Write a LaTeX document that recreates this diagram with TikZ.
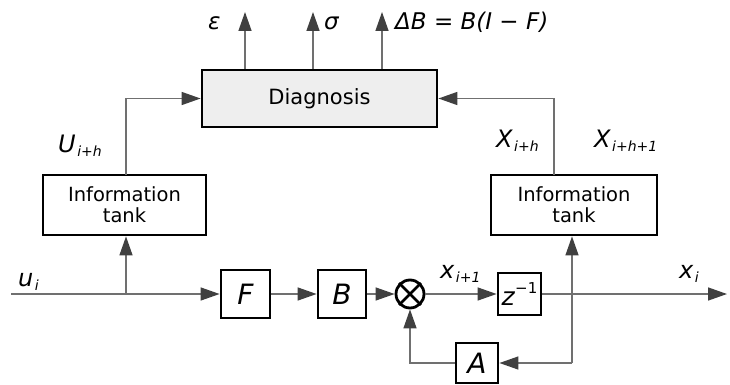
\documentclass[tikz,border=0pt]{standalone}
\usepackage{fontspec}
\setmainfont{DejaVu Sans}
\usetikzlibrary{arrows.meta}
\newcommand\sbs[1]{\kern1.5pt\raisebox{-0.35ex}{\fontsize{14}{14}\selectfont\itshape #1}}
\newcommand\sps[1]{\raisebox{0.9ex}{\fontsize{15}{15}\selectfont #1}}
\definecolor{linegray}{HTML}{707070}
\definecolor{tipgray}{HTML}{404040}
\definecolor{boxfill}{HTML}{EEEEEE}
\tikzset{
  blk/.style={draw=black, line width=2.8pt, fill=white, inner sep=0pt, align=center},
  txt/.style={font=\fontsize{19.5}{21}\selectfont},
  sym/.style={font=\fontsize{28}{28}\selectfont\itshape},
  lbl/.style={font=\fontsize{24}{24}\selectfont\itshape, inner sep=0pt, anchor=base west},
  wire/.style={draw=linegray, line width=1.4pt},
  arr/.style={wire, -{Triangle[length=19pt,width=13pt,fill=tipgray,color=tipgray]}},
}
\begin{document}
\begin{tikzpicture}[x=1pt,y=-1pt]
\useasboundingbox (0,0) rectangle (730,385);
% blocks
\node[blk, fill=boxfill, font=\fontsize{21}{21}\selectfont, minimum width=235pt, minimum height=57pt] (diag) at (319.5,98.5) {Diagnosis};
\node[blk, txt, minimum width=163pt, minimum height=60pt] (tankL) at (124.5,205) {Information\\tank};
\node[blk, txt, minimum width=166pt, minimum height=60pt] (tankR) at (574,205) {Information\\tank};
\node[blk, sym, minimum width=49pt, minimum height=48pt] (F) at (245.5,294) {F};
\node[blk, sym, minimum width=48pt, minimum height=48pt] (B) at (342,294) {B};
\node[blk, circle, minimum size=28pt] (mult) at (410,294) {};
\draw[line width=2.8pt] (mult.north west) -- (mult.south east) (mult.north east) -- (mult.south west);
\node[blk, minimum width=43pt, minimum height=42pt, font=\fontsize{25}{25}\selectfont] (Z) at (519.5,294) {\textit{z}\sps{−1}};
\node[blk, sym, minimum width=42pt, minimum height=40pt] (A) at (477,363) {A};
% coordinates
\coordinate (in) at (11,294);
\coordinate (jL) at (126,294);
\coordinate (out) at (727,294);
\coordinate (jR) at (572,363);
\coordinate (tLtop) at (126,175);
\coordinate (tRtop) at (554,175);
\coordinate (o1) at (245,12);
\coordinate (o2) at (313,12);
\coordinate (o3) at (382,12);
% connectors
\draw[arr] (in) -- (F.west);
\draw[arr] (jL) -- (jL |- tankL.south);
\draw[arr] (tLtop) |- (diag.west);
\draw[arr] (tRtop) |- (diag.east);
\draw[arr] (F) -- (B);
\draw[arr] (B) -- (mult);
\draw[arr] (mult) -- (Z);
\draw[arr] (Z) -- (out);
\draw[arr] (jR) -- (jR |- tankR.south);
\draw[arr] (jR) -- (A.east);
\draw[arr] (A.west) -| (mult.south);
\draw[arr] (o1 |- diag.north) -- (o1);
\draw[arr] (o2 |- diag.north) -- (o2);
\draw[arr] (o3 |- diag.north) -- (o3);
% labels
\node[lbl, font=\fontsize{23}{23}\selectfont\itshape] (leps) at (208,30) {ε};
\node[lbl, font=\fontsize{23}{23}\selectfont\itshape] (lsig) at (324,30) {σ};
\node[lbl, font=\fontsize{23}{23}\selectfont\itshape] (ldb) at (395,30) {ΔB = B(I − F)};
\node[lbl] (lU) at (58,152) {U\sbs{i+h}};
\node[lbl] (lu) at (18,286) {u\sbs{i}};
\node[lbl] (lx1) at (440,278) {x\sbs{i+1}};
\node[lbl] (lXh) at (496,147) {X\sbs{i+h}};
\node[lbl] (lXh1) at (594,147) {X\sbs{i+h+1}};
\node[lbl] (lxi) at (679,278) {x\sbs{i}};
\end{tikzpicture}
\end{document}
